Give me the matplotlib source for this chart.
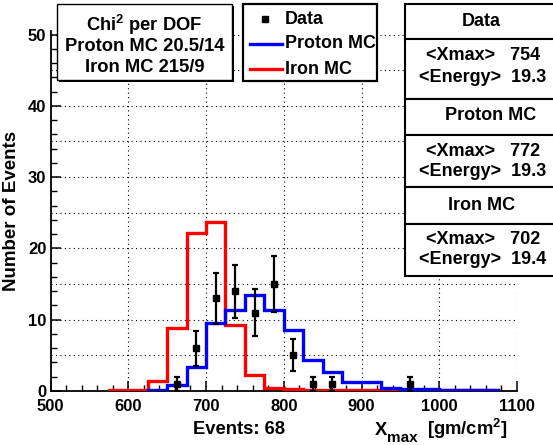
import numpy as np
import matplotlib
matplotlib.use("Agg")
import matplotlib.pyplot as plt
from matplotlib.patches import Rectangle

plt.rcParams['font.family'] = ['Liberation Sans', 'DejaVu Sans']
plt.rcParams['font.weight'] = 'bold'
plt.rcParams['mathtext.fontset'] = 'custom'
plt.rcParams['mathtext.rm'] = 'Liberation Sans:bold'
plt.rcParams['mathtext.it'] = 'Liberation Sans:bold'
plt.rcParams['mathtext.bf'] = 'Liberation Sans:bold'

# histograms, 25 g/cm2 bins
iron_edges = np.arange(575, 1100, 25)
iron_vals = [0.2, 0.2, 1.4, 8.9, 22.2, 23.7, 9.3, 2.3, 0.4, 0.3,
             0.1, 0.1, 0.1, 0.1, 0.1, 0.1, 0.1, 0.1, 0.1, 0.1]
proton_edges = np.arange(625, 1100, 25)
proton_vals = [0.1, 0.85, 3.3, 9.6, 11.3, 13.5, 11.4, 8.5, 4.3, 2.7,
               1.2, 1.2, 0.4, 0.25, 0.25, 0.1, 0.1, 0.2]

# data points
data_x = [662.5, 687.5, 712.5, 737.5, 762.5, 787.5, 812.5, 837.5, 862.5, 962.5]
data_y = [1, 6, 13, 14, 11, 15, 5, 1, 1, 1]
data_err = [1.0, 2.45, 3.6, 3.74, 3.32, 3.87, 2.24, 1.0, 1.0, 1.0]

W, H = 553, 445
fig = plt.figure(figsize=(W / 100, H / 100), dpi=100)
x0, x1, y0, y1 = 50.5, 517, 391, 31
ax = fig.add_axes([x0 / W, 1 - y0 / H, (x1 - x0) / W, (y0 - y1) / H])

ax.stairs(iron_vals, iron_edges, color='#ff0000', lw=2.4, zorder=3)
ax.stairs(proton_vals, proton_edges, color='#0000ff', lw=2.4, zorder=4)
ax.errorbar(data_x, data_y, yerr=data_err, fmt='s', color='k', ms=5,
            elinewidth=1.6, capsize=2.2, capthick=1.6, zorder=5)

ax.set_xlim(500, 1100)
ax.set_ylim(0, 50.5)
ax.set_xticks(np.arange(500, 1101, 100))
ax.set_xticks(np.arange(500, 1101, 20), minor=True)
ax.set_yticks(np.arange(0, 51, 10))
ax.set_yticks(np.arange(0, 51, 2), minor=True)
ax.tick_params(direction='in', labelsize=12, width=1.1, length=7, pad=6)
ax.tick_params(which='minor', direction='in', width=1.0, length=4)
ax.tick_params(axis='y', pad=3)
for s in ['top', 'right']:
    ax.spines[s].set_visible(False)
for s in ['left', 'bottom']:
    ax.spines[s].set_linewidth(1.3)

for xv in range(600, 1101, 100):
    ax.axvline(xv, color='k', ls=(0, (1, 3)), lw=0.8, zorder=1)
for yv in range(5, 51, 5):
    ax.axhline(yv, color='k', ls=(0, (1, 3)), lw=0.8, zorder=1)

ax.set_ylabel('Number of Events', fontsize=13.5, fontweight='bold', labelpad=6)

# overlay in pixel coordinates
ov = fig.add_axes([0, 0, 1, 1])
ov.set_xlim(0, W)
ov.set_ylim(H, 0)
ov.axis('off')

ov.text(239, 429, 'Events: 68', fontsize=13.2, ha='center', va='center')
# x axis title: X_max [gm/cm^2]
ov.text(375, 435, 'X', fontsize=13.2, ha='left', va='baseline')
ov.text(387, 442, 'max', fontsize=11, ha='left', va='baseline')
ov.text(427, 435, r'[gm/cm$^{\rm 2}$]', fontsize=13.2, ha='left', va='baseline')

# chi2 box with shadow
ov.add_patch(Rectangle((59, 6), 175, 76, fc='k', ec='k', lw=0))
ov.add_patch(Rectangle((57, 4), 175, 76, fc='white', ec='k', lw=1.0))
for yy, txt in zip([25, 46.5, 68], [r'Chi$^{\rm 2}$ per DOF', 'Proton MC 20.5/14',
                                     'Iron MC 215/9']):
    ov.text(144.5, yy, txt, fontsize=13.2, ha='center', va='center')

# legend box
ov.add_patch(Rectangle((243, 4), 134, 77, fc='white', ec='k', lw=1.6))
ov.plot([265], [19], 's', color='k', ms=4)
ov.plot([250, 282], [44, 44], color='#0000ff', lw=2.4)
ov.plot([250, 282], [69, 69], color='#ff0000', lw=2.4)
for yy, txt in zip([19, 44, 69], ['Data', 'Proton MC', 'Iron MC']):
    ov.text(285, yy, txt, fontsize=12.9, ha='left', va='center')

# stats boxes
sections = [(4, 39), (39, 99), (99, 135), (135, 187), (187, 224), (224, 276)]
for top, bot in sections:
    ov.add_patch(Rectangle((405, top), 160, bot - top, fc='white', ec='k', lw=1.5))
stat_text = [(21, 'Data', 481), (56, '<Xmax>   754', 483), (77, '<Energy>  19.3', 483),
             (116, 'Proton MC', 491), (151, '<Xmax>   772', 483),
             (171, '<Energy>  19.3', 483), (205, 'Iron MC', 482),
             (240, '<Xmax>   702', 483), (260, '<Energy>  19.4', 483)]
for yy, txt, xx in stat_text:
    ov.text(xx, yy, txt, fontsize=13, ha='center', va='center')

fig.savefig('out.png', dpi=100)
